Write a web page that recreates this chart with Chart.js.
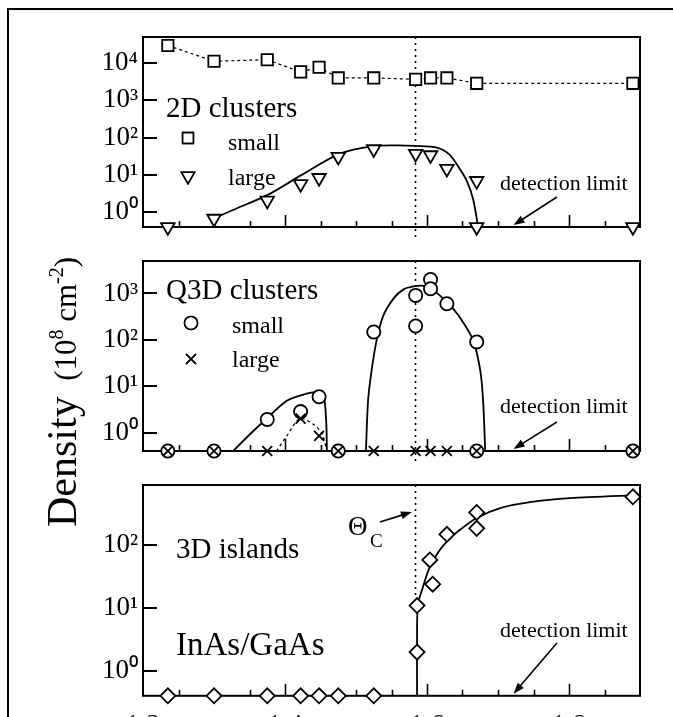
<!DOCTYPE html>
<html><head><meta charset="utf-8">
<script src="https://cdn.jsdelivr.net/npm/chart.js@4.4.1/dist/chart.umd.min.js"></script>
<style>
html,body{margin:0;padding:0;background:#fff;width:673px;height:717px;overflow:hidden}
canvas{position:absolute;left:0;top:0}
</style></head><body>
<canvas id="c1" width="673" height="717"></canvas>
<canvas id="c2" width="673" height="717"></canvas>
<canvas id="c3" width="673" height="717"></canvas>
<script>
// ---------------- data (InAs coverage in ML, densities in 1e8 cm^-2) ----------------
const xMin = 1.2, xMax = 1.9;
const xLabelTicks = [1.2, 1.4, 1.6, 1.8];
const xMinorTicks = [1.25, 1.3, 1.35, 1.4, 1.45, 1.5, 1.55, 1.6, 1.65, 1.7, 1.75, 1.8, 1.85];
const xMajorTicks = [1.4, 1.6, 1.8];
const thetaC = 1.583;
const detectionLimit = 0.4;

// 2D clusters
const small2DX = [1.235, 1.30, 1.375, 1.422, 1.448, 1.475, 1.525, 1.584, 1.605, 1.628, 1.67, 1.89];
const small2D  = [29500, 11200, 12300, 5800, 7700, 4000, 4000, 3650, 4000, 4000, 2860, 2860];
const large2DX = [1.235, 1.30, 1.375, 1.422, 1.448, 1.475, 1.525, 1.584, 1.605, 1.628, 1.67, 1.67, 1.89];
const large2D  = [0.4, 0.67, 2.04, 5.7, 8.3, 30.7, 49, 37, 33.8, 14.6, 6.9, 0.4, 0.4];
const fit2DX = [1.299, 1.3225, 1.3765, 1.4235, 1.4775, 1.524, 1.557, 1.583, 1.614, 1.632, 1.646, 1.656, 1.665, 1.672];
const fit2D  = [0.66, 1.06, 2.96, 10, 37, 59, 62, 60, 54, 34.5, 14.6, 6.9, 2.23, 0.4];
const yTicks2D = [1, 10, 100, 1000, 10000];

// Q3D clusters
const smallQ3DX = [1.235, 1.30, 1.375, 1.422, 1.448, 1.475, 1.525, 1.584, 1.584, 1.605, 1.605, 1.628, 1.67, 1.67, 1.89];
const smallQ3D  = [0.4, 0.4, 1.92, 2.83, 5.9, 0.4, 147, 906, 198, 2000, 1260, 598, 90, 0.4, 0.4];
const largeQ3DX = [1.235, 1.30, 1.375, 1.422, 1.448, 1.475, 1.525, 1.584, 1.605, 1.628, 1.67, 1.89];
const largeQ3D  = [0.4, 0.4, 0.4, 2.0, 0.85, 0.4, 0.4, 0.4, 0.4, 0.4, 0.4, 0.4];
const fitQ3DaX = [1.327, 1.351, 1.374, 1.402, 1.426, 1.445, 1.454, 1.458, 1.459];
const fitQ3Da  = [0.4, 0.93, 1.98, 4.8, 6.6, 7.5, 6.6, 1.74, 0.4];
const fitQ3DbX = [1.514, 1.517, 1.522, 1.529, 1.538, 1.553, 1.567, 1.581, 1.595, 1.604, 1.618, 1.637, 1.651, 1.665, 1.675, 1.679, 1.682];
const fitQ3Db  = [0.4, 4.9, 21.9, 97, 320, 782, 1222, 1416, 1460, 1313, 906, 463, 237, 97, 21.9, 4.9, 0.4];
const fitQ3DlX = [1.388, 1.402, 1.421, 1.44, 1.452, 1.459];
const fitQ3Dl  = [0.4, 0.82, 2.0, 1.5, 0.95, 0.4];
const yTicksQ3D = [1, 10, 100, 1000];

// 3D islands
const islandsX = [1.235, 1.30, 1.375, 1.422, 1.448, 1.475, 1.525, 1.586, 1.586, 1.604, 1.608, 1.628, 1.67, 1.67, 1.89];
const islands  = [0.4, 0.4, 0.4, 0.4, 0.4, 0.4, 0.4, 10.9, 1.98, 57.8, 23.8, 148, 330, 184, 585];
const fit3DX = [1.586, 1.586, 1.587, 1.593, 1.604, 1.618, 1.630, 1.646, 1.670, 1.703, 1.745, 1.801, 1.89, 1.9];
const fit3D  = [0.4, 1.98, 10.9, 19.3, 45, 83, 120, 173, 269, 386, 480, 557, 617, 617];
const yTicks3D = [1, 10, 100];

// ---------------- helpers ----------------
const FONT = '"Liberation Serif", "Times New Roman", serif';
const SUP = {'-':'\u207B','0':'\u2070','1':'\u00B9','2':'\u00B2','3':'\u00B3','4':'\u2074','8':'\u2078'};
function decadeLabel(v){ const e = Math.round(Math.log10(v)); return '10' + String(e).split('').map(c => SUP[c]).join(''); }
function pts(xs, ys){ return xs.map((x, i) => ({x, y: ys[i]})); }

function markerSet(xs, ys, style, radius, extra){
  return Object.assign({
    data: pts(xs, ys), pointStyle: style, pointRadius: radius, pointHoverRadius: radius,
    pointBackgroundColor: '#fff', pointBorderColor: '#000', pointBorderWidth: 1.8,
    showLine: false, clip: false, order: 0
  }, extra || {});
}
function fitSet(xs, ys, dash){
  return {
    data: pts(xs, ys), showLine: true, pointRadius: 0, borderColor: '#000',
    borderWidth: dash ? 1.3 : 1.8, borderDash: dash || [], tension: 0.3, fill: false, order: 1
  };
}
function drawArrow(ctx, x1, y1, x2, y2){
  const ang = Math.atan2(y2 - y1, x2 - x1), L = 11, W = 4;
  ctx.beginPath(); ctx.moveTo(x1, y1); ctx.lineTo(x2 - Math.cos(ang) * L * 0.8, y2 - Math.sin(ang) * L * 0.8); ctx.stroke();
  ctx.beginPath();
  ctx.moveTo(x2, y2);
  ctx.lineTo(x2 - Math.cos(ang) * L + Math.sin(ang) * W, y2 - Math.sin(ang) * L - Math.cos(ang) * W);
  ctx.lineTo(x2 - Math.cos(ang) * L - Math.sin(ang) * W, y2 - Math.sin(ang) * L + Math.cos(ang) * W);
  ctx.closePath(); ctx.fill();
}
function legendPoint(ctx, style, r, x, y, rot){
  Chart.helpers.drawPoint(ctx, {pointStyle: style, radius: r, rotation: rot || 0, borderWidth: 1.8}, x, y);
  ctx.fill(); ctx.stroke();
}

function panelPlugin(cfg){
  return {
    id: 'panel' + cfg.id,
    beforeDatasetsDraw(chart){
      const {ctx, chartArea: a, scales: {x, y}} = chart;
      ctx.save();
      // dotted Theta_c line
      ctx.strokeStyle = '#000'; ctx.lineWidth = 1.6; ctx.setLineDash([2, 4]);
      const xc = Math.round(x.getPixelForValue(thetaC)) + 0.5;
      ctx.beginPath(); ctx.moveTo(xc, a.top); ctx.lineTo(xc, cfg.dotEnd ? y.getPixelForValue(cfg.dotEnd) : a.bottom + 13); ctx.stroke();
      ctx.setLineDash([]);
      // frame
      ctx.lineWidth = 2;
      ctx.strokeRect(a.left, a.top, a.right - a.left, a.bottom - a.top);
      // inward x ticks
      ctx.lineWidth = 1.6;
      xMinorTicks.forEach(v => {
        const px = Math.round(x.getPixelForValue(v)) + 0.5;
        const len = xMajorTicks.includes(v) ? 12 : 6;
        ctx.beginPath(); ctx.moveTo(px, a.bottom); ctx.lineTo(px, a.bottom - len); ctx.stroke();
      });
      // inward y ticks
      ctx.lineWidth = 2;
      cfg.yTicks.forEach(v => {
        const py = Math.round(y.getPixelForValue(v));
        ctx.beginPath(); ctx.moveTo(a.left, py); ctx.lineTo(a.left + 14, py); ctx.stroke();
      });
      ctx.restore();
    },
    afterDraw(chart){
      const {ctx, chartArea: a, scales: {x, y}} = chart;
      ctx.save();
      ctx.fillStyle = '#000'; ctx.strokeStyle = '#000';
      // detection limit text + arrow
      ctx.font = '22px ' + FONT; ctx.textBaseline = 'alphabetic'; ctx.textAlign = 'left';
      ctx.fillText('detection limit', 500, cfg.detBase);
      ctx.lineWidth = 1.6;
      drawArrow(ctx, x.getPixelForValue(1.783), cfg.arrowTail, x.getPixelForValue(1.722), a.bottom - 2);
      cfg.extra && cfg.extra(ctx, chart);
      ctx.restore();
    }
  };
}

function makeChart(id, datasets, padTop, padBottom, yMax, yTicks, showX, plugin){
  return new Chart(document.getElementById(id), {
    type: 'scatter',
    data: {datasets},
    options: {
      responsive: false, animation: false, devicePixelRatio: 1,
      events: [],
      layout: {padding: {left: 0, right: 33, top: padTop, bottom: padBottom}},
      plugins: {legend: {display: false}, tooltip: {enabled: false}},
      scales: {
        x: {
          type: 'linear', min: xMin, max: xMax, display: showX,
          grid: {display: false, drawTicks: false}, border: {display: false},
          afterBuildTicks: s => { s.ticks = xLabelTicks.map(v => ({value: v})); },
          afterFit: s => { s.height = 21; },
          ticks: {autoSkip: false, maxRotation: 0, padding: 13, color: '#000',
                  font: {family: FONT, size: 28}, callback: v => v.toFixed(1)}
        },
        y: {
          type: 'logarithmic', min: detectionLimit, max: yMax,
          grid: {display: false, drawTicks: false}, border: {display: false},
          afterBuildTicks: s => { s.ticks = yTicks.map(v => ({value: v})); },
          afterFit: s => { s.width = 143; },
          ticks: {autoSkip: false, padding: 5, color: '#000',
                  font: {family: FONT, size: 27}, callback: v => decadeLabel(v)}
        }
      }
    },
    plugins: [plugin]
  });
}

// ---------------- panel 1: 2D clusters ----------------
makeChart('c1', [
  markerSet(small2DX, small2D, 'rect', 8, {showLine: true, borderColor: '#000', borderWidth: 1.2, borderDash: [3, 3], tension: 0}),
  markerSet(large2DX, large2D, 'triangle', 7.8, {rotation: 180}),
  fitSet(fit2DX, fit2D)
], 37, 469, 50000, yTicks2D, false, panelPlugin({
  id: 1, yTicks: yTicks2D, detBase: 190, arrowTail: 197,
  extra(ctx){
    ctx.font = '29px ' + FONT; ctx.fillText('2D clusters', 166, 117);
    ctx.font = '24px ' + FONT; ctx.fillText('small', 228, 150); ctx.fillText('large', 228, 185);
    ctx.fillStyle = '#fff';
    legendPoint(ctx, 'rect', 7.6, 188, 138);
    legendPoint(ctx, 'triangle', 7.6, 188, 176, 180);
    // outer frame of the figure
    ctx.strokeStyle = '#000'; ctx.lineWidth = 2;
    ctx.strokeRect(8, 9, 700, 760);
  }
}));

// ---------------- panel 2: Q3D clusters ----------------
makeChart('c2', [
  markerSet(largeQ3DX, largeQ3D, 'crossRot', 7, {order: -1}),
  markerSet(smallQ3DX, smallQ3D, 'circle', 6.6),
  fitSet(fitQ3DaX, fitQ3Da),
  fitSet(fitQ3DbX, fitQ3Db),
  fitSet(fitQ3DlX, fitQ3Dl, [3, 3])
], 261, 245, 5000, yTicksQ3D, false, panelPlugin({
  id: 2, yTicks: yTicksQ3D, detBase: 413, arrowTail: 422,
  extra(ctx){
    ctx.font = '29px ' + FONT; ctx.fillText('Q3D clusters', 166, 299);
    ctx.font = '24px ' + FONT; ctx.fillText('small', 232, 333); ctx.fillText('large', 232, 367);
    ctx.fillStyle = '#fff';
    legendPoint(ctx, 'circle', 6.5, 191, 323);
    legendPoint(ctx, 'crossRot', 7, 191, 359);
    // y axis title
    ctx.fillStyle = '#000';
    ctx.translate(76, 527); ctx.rotate(-Math.PI / 2);
    const segs = [['Density', 42, 0], ['  (10', 31, 0], ['8', 20, 13], [' cm', 31, 0], ['-2', 20, 13], [')', 31, 0]];
    let cx = 0;
    segs.forEach(([t, f, rise]) => { ctx.font = f + 'px ' + FONT; ctx.fillText(t, cx, -rise); cx += ctx.measureText(t).width; });
  }
}));

// ---------------- panel 3: 3D islands ----------------
makeChart('c3', [
  markerSet(islandsX, islands, 'rectRot', 7.5),
  fitSet(fit3DX, fit3D)
], 485, 0, 900, yTicks3D, true, panelPlugin({
  id: 3, yTicks: yTicks3D, detBase: 637, arrowTail: 643, dotEnd: 10.9,
  extra(ctx, chart){
    ctx.font = '29px ' + FONT; ctx.fillText('3D islands', 176, 558);
    ctx.font = '33px ' + FONT; ctx.fillText('InAs/GaAs', 176, 655);
    ctx.font = '27px ' + FONT; ctx.fillText('\u0398', 348, 535);
    ctx.font = '19px ' + FONT; ctx.fillText('C', 370, 547);
    const xc = chart.scales.x.getPixelForValue(thetaC);
    drawArrow(ctx, 380, 522, xc - 3, 512);
  }
}));
</script>
</body></html>
